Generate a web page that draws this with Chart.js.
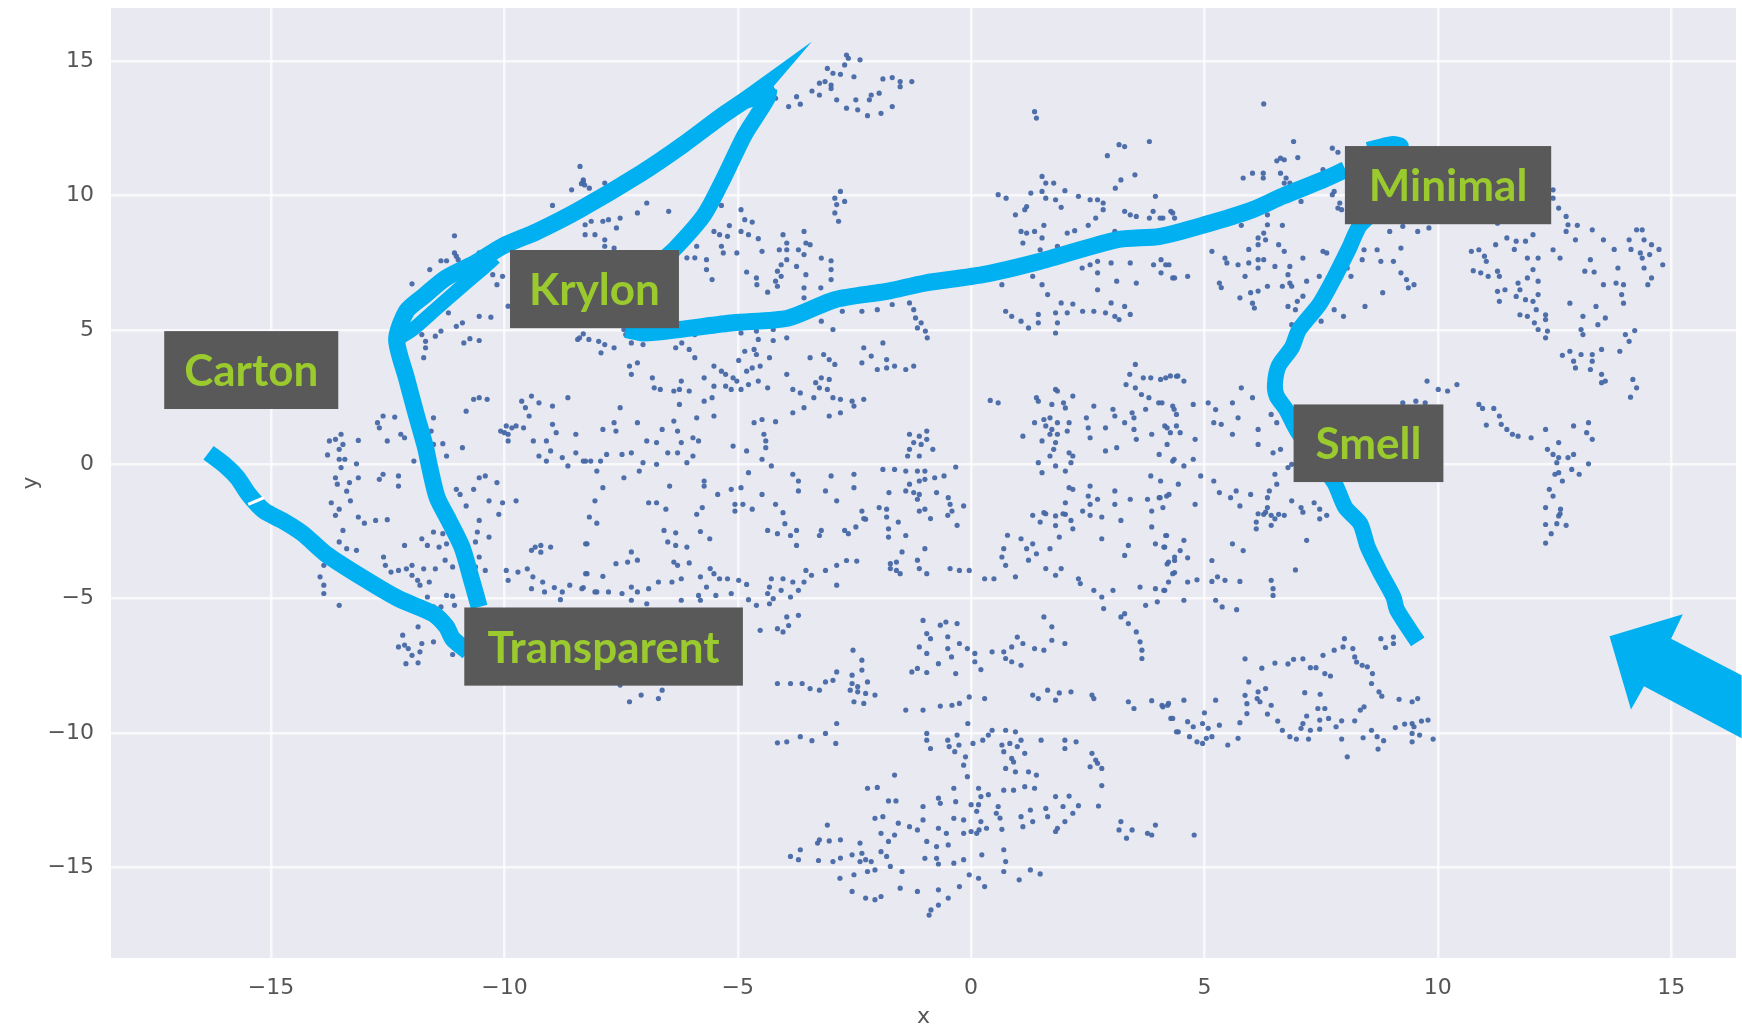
<!DOCTYPE html>
<html>
<head>
<meta charset="utf-8">
<title>t-SNE scatter</title>
<script src="https://cdn.jsdelivr.net/npm/chart.js@4/dist/chart.umd.min.js"></script>
<style>
  html, body { margin: 0; padding: 0; background: #fff; overflow: hidden; }
  canvas { display: block; filter: blur(0.7px); }
</style>
</head>
<body>
<canvas id="chart" width="1742" height="1030"></canvas>
<script>
'use strict';

// ── TICKS ────────────────────────────────────────────────────────
var xTicks = [-15, -10, -5, 0, 5, 10, 15];
var yTicks = [-15, -10, -5, 0, 5, 10, 15];

// ── POINTS (by region) ───────────────────────────────────────────
var pointsNorthWest = [
  [-8.38,11.09],[-8.31,10.53],[-8.28,10.4],[-8.35,10.45],[-8.56,10.22],[-8.97,9.64],[-11.07,8.51],[-11.07,7.87],[-10.99,7.62],[-11.03,7.75],
  [-11.36,7.58],[-11.24,7.58],[-11.6,7.25],[-11.98,6.72],[-10.54,7.87],[-10.25,7.06],[-10.16,6.69],[-10.04,7],[-11.2,5.64],[-10.54,5.51],
  [-10.29,5.48],[-9.92,5.89],[-11.03,5.14],[-10.9,5.27],[-11.36,4.96],[-11.48,4.77],[-11.77,4.83],[-11.69,4.58],[-11.94,5.08],[-11.69,4.34],
  [-11.73,3.97],[-10.87,4.52],[-10.74,4.68],[-10.54,4.61],[-8.31,4.86],[-8.43,4.65],[-8.19,4.65],
  [-8.31,10.59],[-8.18,10.28],[-7.85,10.47],[-8.14,9.05],[-7.89,9.05],[-7.77,9.11],[-7.52,9.17],[-7.6,8.8],[-8.27,8.92],[-8.27,8.55],
  [-8.06,8.55],[-7.85,8.36],[-7.85,8.12],[-7.65,8.05],[-6.95,9.73],[-7.15,9.36],[-6.48,9.42]
];
var pointsWest = [
  [-10.54,2.48],[-10.37,2.42],[-10.66,2.42],[-10.82,1.98],[-12.6,1.8],[-12.72,1.55],[-12.35,1.76],[-12.68,1.36],[-11.52,1.73],[-11.57,1.24],
  [-13.5,1.12],[-13.75,0.87],[-13.62,0.93],[-13.46,0.74],[-13.54,0.56],[-13.79,0.35],[-13.54,0.19],[-13.42,0.19],[-13.5,-0.12],[-13.17,0.02],
  [-13.13,0.89],[-13.62,-0.5],[-13.58,-0.74],[-13.32,-0.68],[-13.13,-0.5],[-13.38,-1],[-13.71,-1.43],[-13.54,-1.67],[-13.3,-1.36],[-12.51,0.87],
  [-12.22,1.12],[-12.14,0.99],[-12.6,-0.37],[-12.68,-0.56],[-12.27,-0.43],[-12.27,-0.81],[-11.94,0.12],[-11.32,0.77],[-10.9,0.62],[-11.24,0.31],
  [-11.52,0.74],[-9.96,1.43],[-10.08,1.24],[-9.92,1.12],[-9.84,1.36],[-9.75,1.43],[-9.59,1.36],[-9.92,0.87],[-10,1.18],[-9.63,2.35],
  [-9.42,2.54],[-9.55,2.11],[-9.47,1.8],[-9.26,2.29],[-8.97,2.17],[-8.64,2.48],[-8.97,1.49],[-8.89,1.18],[-9.1,0.87],[-9.01,0.5],
  [-9.26,0.31],[-8.47,1.12],[-9.38,0.87],[-8.47,0.43],[-8.31,0.12],[-8.76,0.25],[-8.64,-0.06],[-9.1,0.12],[-8.15,0.12],[-11.03,-0.93],
  [-10.95,-1.12],[-10.66,-0.93],[-10.54,-0.5],[-10.41,-0.43],[-10.16,-0.68],[-10.33,-1.36],[-10.04,-1.43],[-9.75,-1.36],[-10.12,-1.86],[-10.82,-1.55]
];
var pointsSouthWest = [
  [-13.62,-1.9],[-13.13,-1.96],[-13,-2.19],[-12.76,-2.09],[-12.51,-2.06],[-13.46,-2.46],[-13.54,-2.89],[-13.38,-3.14],[-13.17,-3.2],[-12.14,-3.02],
  [-11.77,-2.77],[-11.52,-2.52],[-11.32,-2.58],[-11.65,-3.02],[-11.4,-3.08],[-11.24,-2.96],[-10.54,-2.09],[-10.58,-2.52],[-10.33,-2.71],[-10.62,-2.89],
  [-9.34,-3.08],[-9.22,-3.02],[-9.01,-3.08],[-9.42,-3.2],[-9.22,-3.27],[-8.23,-2.96],[-8.23,-4.07],[-12.59,-3.45],[-12.55,-3.76],[-12.43,-4.01],
  [-12.27,-3.95],[-12.1,-3.89],[-11.98,-3.76],[-11.98,-4.13],[-11.86,-4.32],[-11.61,-4.38],[-11.73,-3.89],[-11.48,-3.89],[-11.27,-3.57],[-11.11,-3.82],
  [-11.81,-4.5],[-10.54,-3.45],[-10.62,-3.82],[-10.41,-3.95],[-13.87,-3.76],[-13.95,-4.19],[-13.87,-4.5],[-13.87,-4.81],[-13.54,-5.25],[-9.96,-3.95],
  [-9.71,-4.01],[-9.92,-4.32],[-9.51,-3.89],[-9.39,-4.19],[-9.18,-4.38],[-9.42,-4.63],[-9.14,-4.75],[-8.93,-4.59],[-8.76,-4.75],[-8.6,-4.5],
  [-8.31,-4.59],[-8.02,-4.75],[-8.8,-5.04],[-11.65,-4.94],[-11.24,-4.88],[-11.11,-4.91],[-11.36,-5.31],[-11.07,-5.25],[-11.52,-5.31],[-11.85,-6.05],
  [-12.18,-6.36],[-12.14,-6.73],[-11.77,-6.67],[-11.52,-6.61],[-11.98,-7.11],[-11.81,-6.98],[-12.11,-7.42],[-11.85,-7.39],[-11.11,-7.08],[-12.27,-6.8],[-12.06,-6.86]
];
var pointsNorthCentre = [
  [-4.93,9.48],[-4.85,9.11],[-4.69,9.02],[-4.93,8.67],[-4.77,8.55],[-4.56,8.4],[-4.48,7.93],[-5.51,8.67],[-5.39,8.55],[-5.22,8.49],
  [-5.35,8.12],[-5.31,7.87],[-5.02,7.87],[-5.88,8.12],[-6.09,7.69],[-5.92,7.69],[-5.67,7.62],[-5.67,7.25],[-5.55,6.88],[-5.18,8.89],
  [-5.35,9.64],[-4.81,7.16],[-4.6,6.94],[-4.59,6.69],[-4.36,6.41],[-4.03,8.55],[-3.95,8.24],[-4.11,7.99],[-3.95,7.99],[-3.58,8.67],
  [-3.54,8.24],[-3.45,8.18],[-3.7,7.99],[-3.58,7.81],[-3.21,7.68],[-3,7.58],[-3,7.25],[-3,6.88],[-3.22,6.57],[-3.54,7.06],
  [-3.74,7.37],[-3.58,6.57],[-3.58,6.2],[-3.95,7.62],[-4.07,7.43],[-4.15,7.19],[-4.07,7],[-4.19,6.82],[-4.15,6.63],[-2.8,10.16],
  [-2.92,9.91],[-2.71,9.79],[-2.88,9.67],[-2.92,9.36],[-2.84,9.05],[-2.67,15.24],[-2.63,15.12],[-2.38,15.06],[-2.71,14.87],[-3.08,14.74],
  [-2.96,14.56],[-3.13,14.25],[-3.25,14.19],[-3,14.12],[-2.8,14.52],[-2.51,14.43],[-1.89,14.35],[-1.69,14.4],[-1.52,14.25],[-1.27,14.25],
  [-1.52,14.06],[-3.41,13.9],[-3.25,13.75],[-3,13.99],[-2.88,13.57],[-2.67,13.26],[-2.47,13.57],[-2.43,13.2],[-2.22,12.98],[-1.93,13.07],
  [-1.69,13.32],[-2.14,13.75],[-1.97,13.82],[-2.18,13.57],[-3.74,13.69],[-3.91,13.32],[-3.66,13.41],[-4.19,13.63],
  [-2.76,5.7],[-2.34,5.7],[-2.01,5.76],[-1.69,5.95],[-1.32,6.01],[-1.23,5.76],[-1.19,5.45],[-1.07,5.27],[-1.15,5.08],[-0.98,4.96],
  [-0.94,4.71],[-3.21,5.33],[-2.96,5.02]
];
var pointsCentre = [
  [-8.39,4.71],[-7.98,4.58],[-7.85,4.46],[-7.93,4.15],[-7.65,4.34],[-7.4,4.83],[-7.28,4.52],[-7.03,4.46],[-7.44,5.02],[-4.93,4.89],
  [-4.6,4.96],[-4.56,4.65],[-4.24,5.02],[-4.24,4.61],[-3.95,4.71],[-5.92,4.83],[-6.2,4.52],[-6.33,4.34],[-6.04,4.28],[-5.92,3.97],
  [-4.65,4.28],[-4.85,4.21],[-4.6,4.09],[-4.32,3.97],[-4.98,3.87],[-4.69,3.59],[-4.52,3.66],[-4.81,3.47],[-5.02,3.1],[-4.56,3.1],
  [-4.77,2.97],[-4.36,2.85],[-4.93,2.79],[-5.14,2.79],[-5.26,2.91],[-5.51,3.66],[-5.35,3.47],[-5.26,3.35],[-5.72,3.22],[-5.51,2.91],
  [-5.55,2.48],[-5.72,2.35],[-5.1,3.22],[-7.32,3.66],[-7.15,3.78],[-7.28,3.35],[-6.83,3.22],[-6.79,2.85],[-6.66,2.79],[-6.21,3.1],
  [-6.25,2.79],[-6.37,2.73],[-6.04,2.73],[-6.25,2.23],[-5.88,1.73],[-5.51,1.8],[-7.52,2.11],[-2.3,4.34],[-2.14,4.03],[-2.34,3.78],
  [-2.01,3.53],[-1.81,3.9],[-1.89,4.52],[-1.64,3.66],[-1.4,3.53],[-1.23,3.66],[-1.81,3.59],[-3.16,4.09],[-3.04,3.9],[-2.92,3.72],
  [-3.45,3.97],[-3.95,3.35],[-3.21,3.22],[-3.04,3.16],[-3.33,3.04],[-3.25,2.85],[-3.08,2.79],[-2.96,2.48],[-2.8,2.42],[-2.55,2.35],
  [-2.3,2.42],[-2.51,2.17],[-2.8,1.92],[-3.04,1.8],[-3.37,2.48],[-3.58,2.11],[-3.82,1.92],[-3.66,2.66],[-3.82,2.79],
  [-7.89,1.3],[-7.65,1.55],[-7.61,1.24],[-7.15,1.55],[-6.62,1.3],[-6.37,1.61],[-6.29,1.24],[-6.21,0.81],[-6.95,0.87],[-6.74,0.81],
  [-5.96,0.99],[-5.84,0.87],[-6.5,0.43],[-6.29,0.43],[-5.96,0.31],[-6.09,0.06],[-6.74,0],[-7.03,0.06],[-7.11,-0.25],[-7.28,0.43],
  [-7.48,0.37],[-7.81,0.37],[-7.94,0.12],[-8.26,0.12],[-8.02,-0.25],[-7.44,-0.5],[-7.89,-0.87],[-6.46,-0.81],[-8.06,-1.36],[-5.72,-0.62],
  [-5.72,-0.81],[-5.43,-1.12],[-5.14,-0.93],[-4.93,-0.87],[-5.06,-1.49],[-4.89,-1.49],[-4.69,-1.67],[-4.48,-1.12],[-4.19,-1.49],[-4.03,-1.8],
  [-6.91,-1.43],[-6.74,-1.43],[-6.54,-1.67],[-5.76,-1.61],[-5.88,-1.86],[-5.06,-1.74],[-4.65,1.55],[-4.48,1.67],[-4.19,1.59],[-4.44,1.12],
  [-4.4,0.87],[-4.4,0.62],[-5.1,0.68],[-4.81,0.5],[-4.48,0.19],[-4.28,-0.06],[-4.77,-0.31],[-3.82,-0.37],[-3.7,-0.62],[-3.7,-0.99],
  [-3.12,-0.99],[-3,-0.43],[-2.88,-1.36],[-2.51,-0.37],[-2.51,-0.87],[-1.89,-0.19],[-1.64,-0.19],[-1.76,-1.05],[-1.97,-1.61],[-1.81,-1.67],
  [-2.34,-1.74],[-2.26,-2.04],[-1.32,1.12],[-1.11,1.05],[-0.95,1.24],[-1.23,0.81],[-1.07,0.74],[-1.32,0.56],[-1.11,0.31],[-0.82,0.56],
  [-0.95,0.93],[-1.36,0.31],[-0.33,-0.1],[-1.4,-0.25],[-1.15,-0.25],[-0.99,-0.25],[-1.11,-0.62],[-0.99,-0.56],[-0.78,-0.5],[-0.58,-0.43],
  [-1.32,-0.74],[-1.23,-1.05],[-1.11,-1.12],[-1.4,-0.99],[-0.74,-1.05],[-0.49,-1.24],[-0.45,-1.49],[-0.16,-1.55],[-0.41,-1.74],[-0.99,-1.67],
  [-1.11,-1.74],[-1.15,-1.3]
];
var pointsNorthEast = [
  [1.36,13.13],[1.4,12.89],[3.17,11.9],[3.29,11.83],[3.82,12.02],[2.92,11.49],[3.51,10.78],[3.21,10.59],[3.09,10.28],[0.58,10.04],
  [0.75,9.91],[1.52,10.72],[1.6,10.47],[1.77,10.47],[1.52,10.16],[1.6,9.91],[1.28,10.1],[1.81,9.85],[2.01,10.19],[1.93,9.57],
  [2.3,9.98],[2.55,9.85],[2.71,9.85],[2.83,9.73],[2.83,9.48],[0.95,9.29],[1.19,9.6],[1.15,9.48],[3.29,9.42],[3.41,9.29],
  [3.54,9.23],[3.82,9.17],[3.9,9.42],[4.11,9.17],[4.32,9.36],[3.95,9.98],[1.56,8.9],[1.36,8.67],[1.07,8.67],[1.19,8.61],
  [1.11,8.24],[1.52,8.43],[2.06,8.61],[2.22,8.7],[2.51,8.9],[2.67,9.17],[3.08,8.67],[1.48,7.99],[1.85,8.12],[2.38,7.31],
  [2.55,7.43],[2.71,7.56],[3,7.5],[3.41,7.5],[3.91,7.43],[4.07,7.62],[4.24,7.43],[4.07,7.13],[4.36,6.94],[2.71,7.13],
  [3.12,6.82],[3.54,6.75],[2.71,6.5],[1.32,7],[1.52,6.69],[1.64,6.32],[0.66,6.69],[0.74,5.7],[0.87,5.51],[1.07,5.33],
  [1.23,5.08],[1.44,5.58],[1.44,5.27],[1.81,5.64],[1.85,5.27],[1.81,4.89],[1.93,6.01],[2.18,5.97],[2.06,5.64],[2.39,5.7],
  [2.63,5.7],[3,6.01],[2.88,5.64],[3.08,5.51],[3.29,5.88],[3.41,5.58],[3.17,5.39],
  [6.27,13.42],[6.91,12.02],[6.63,11.4],[6.55,11.3],[6.71,11.34],[7,11.42],[7.74,11.77],[7.86,11.62],[5.83,10.66],[6.03,10.84],
  [6.26,10.84],[6.26,10.66],[6.63,10.84],[6.75,10.66],[6.71,10.47],[6.83,10.47],[7.07,9.79],[7.54,10.97],[7.78,10.16],[7.74,10.04],
  [7.9,9.73],[7.86,9.54],[7.94,9.48],[4.28,9.42],[4.36,9.17],[4.05,9.17],[6.35,8.92],[5.79,8.9],[6.67,8.9],[6.35,9.29],
  [8.97,8.67],[9.25,8.86],[9.57,8.67],[9.81,8.8],[11.28,8.98],[6.27,8.61],[6.15,8.43],[6.31,8.36],[6.15,8.18],[5.95,8],
  [6.59,8.18],[6.71,7.93],[5.16,7.93],[5.44,7.68],[5.48,7.5],[5.72,7.43],[5.95,7.5],[6.15,7.62],[6.27,7.62],[6.15,7.31],
  [6.51,7.37],[6.83,7.37],[6.79,7.06],[6.83,6.75],[7.11,7.68],[7.19,6.82],[6.67,6.63],[6.87,6.63],[6.35,6.63],[6.15,6.45],
  [5.99,6.39],[5.76,6.2],[6.03,6],[6.07,5.82],[5.32,6.75],[5.36,6.58],[5.87,7],[4.64,7],[4.32,6.94],[4.17,7.43],
  [7.54,7.93],[7.62,7.87],[7.46,7],[8.06,7.31],[8.14,7],[8.38,7.62],[8.42,7.99],[8.7,7.99],[9.21,8.05],[8.78,7.56],
  [9.05,7.56],[9.21,7.13],[9.33,6.88],[9.49,6.69],[9.37,6.57],[8.82,6.39],[8.44,5.88],[7.78,5.76],[7.98,5.51],[6.79,5.88],
  [6.95,5.76],[6.99,6.07],[7.11,6.26],[7.5,5.33],[6.87,5.2]
];
var pointsFarEast = [
  [12.47,10.22],[12.47,9.91],[12.59,9.54],[12.75,9.23],[12.79,8.92],[12.99,8.9],[12.75,8.67],[12.95,8.36],[13.31,8.73],[13.55,8.36],
  [13.78,8],[14.26,8.73],[14.38,8.73],[14.1,8.36],[14.42,8.36],[14.58,8.18],[14.74,8],[14.14,8],[14.34,7.87],[14.54,7.81],
  [14.38,7.68],[14.82,7.43],[14.42,7.31],[14.58,6.94],[14.5,6.69],[13.86,7.31],[13.55,6.69],[13.82,6.75],[13.98,6.69],[13.94,6.32],
  [13.98,6],[13.27,7.62],[13.15,7.19],[13.35,7.16],[12.83,6],[13.39,5.88],[13.11,5.51],[13.59,5.45],[13.43,5.2],[13.07,5.02],
  [13.11,4.83],[14.22,4.98],[14.02,4.83],[14.1,4.58],[13.9,4.21],[13.51,4.28],[13.31,4.09],[13.07,4.09],[12.83,4.21],[12.67,4.06],
  [12.91,3.84],[12.95,3.59],[13.31,3.84],[13.27,3.53],[13.51,3.35],[13.51,3.04],[13.59,3.1],[14.18,3.16],[14.26,2.85],[14.13,2.5],
  [10.72,7.93],[10.88,7.99],[11,7.75],[11.04,7.56],[11.24,8.18],[11.48,8.43],[11.68,8.31],[11.88,8.31],[12.04,8.55],[11.64,8],
  [11.92,7.68],[12.15,7.68],[12.47,7.99],[12.62,7.68],[10.76,7.21],[10.92,7.13],[11.08,7],[11.28,7.19],[11.32,7],[12.04,7.25],
  [11.92,6.94],[12.15,6.82],[11.72,6.75],[11.76,6.5],[11.28,6.44],[11.44,6.5],[11.68,6.25],[11.32,6.07],[11.88,6.13],[12.04,6.07],
  [12.15,6.32],[12.11,5.76],[11.76,5.57],[11.92,5.51],[12.31,5.57],[12.31,5.39],[12.07,5.27],[12.15,5.02],[12.35,4.96],[12.31,4.71],
  [9.77,3.1],[10.01,2.79],[10.21,2.73],[10.41,2.97],[9.25,2.29],[9.53,2.35],[9.73,2.29],[10.88,2.23],[10.96,2.08],[11.2,2.08],
  [11.32,1.8],[11.04,1.46],[11.36,1.49],[11.48,1.3],[11.6,1.12],[11.72,1.05],[12,0.99],[12.31,1.3],[12.91,1.43],[13.23,1.55],
  [13.19,1.18],[13.31,0.93],[12.59,0.81],[12.35,0.56],[12.47,0.37],[12.59,0.25],[12.79,0.25],[12.91,0.37],[13.23,0.02],[12.55,0.06],
  [12.59,-0.31],[12.51,-0.37],[12.87,-0.19],[13.03,-0.37],[12.67,-0.62],[12.39,-0.93],[12.47,-1.18],[12.31,-1.61],[12.63,-1.67],[12.59,-1.92],
  [12.31,-2.24],[12.55,-2.21],[12.75,-2.27],[12.43,-2.58],[12.31,-2.93],[12.62,-1.84]
];
var pointsEastCentre = [
  [3.52,3.72],[3.4,3.35],[3.32,2.97],[3.69,3.22],[3.85,3.22],[4.06,3.16],[4.27,3.29],[4.43,3.29],[3.52,2.85],[3.65,2.6],
  [3.81,2.48],[4.02,2.29],[4.35,2.05],[3.74,2.05],[3.45,1.92],[3.04,2.05],[3.08,1.8],[2.63,2.17],[2.47,1.73],[2.51,1.36],
  [2.55,0.99],[2.88,1.36],[3.29,1.55],[3.49,1.3],[3.54,0.93],[3.87,1.12],[4.15,1.43],[4.27,1.18],[3.49,1.73],[3.12,0.62],
  [2.88,0.5],[4.03,0.37],[4.35,0.19],[3.85,-0.43],[4.06,-0.62],[0.41,2.38],[0.58,2.29],[1.81,2.79],[1.85,2.73],[1.4,2.48],
  [1.44,2.35],[1.73,2.23],[1.98,2.29],[2.02,2.1],[2.18,2.54],[1.36,1.55],[1.56,1.67],[1.69,1.73],[1.6,1.43],[1.73,1.3],
  [1.85,1.55],[2.1,1.55],[2.06,1.24],[1.85,1.12],[1.69,1.12],[1.11,1.05],[1.52,0.87],[1.81,0.81],[1.77,0.56],[1.69,0.31],
  [2.1,0.43],[2.18,0.31],[2.14,0.06],[1.44,0.06],[1.81,-0.06],[1.52,-0.31],[2.02,-0.25],[2.1,-0.87],[2.18,-0.93],[2.55,-0.81],
  [2.51,-1.18],[2.71,-1.3],[3.08,-0.99],[3.41,-1.3],[3.78,-1.3],[4.03,-1.24],[4.19,-1.18],[3.87,-1.74],[4.11,-1.61],[2.02,-1.43],
  [1.56,-1.8],[1.81,-1.92],[2.02,-1.86],[2.55,-1.49],[2.39,-1.74],[3.08,-1.49],
  [4.17,3.22],[4.4,3.28],[4.56,3.1],[5.79,2.85],[6.03,2.48],[5.6,2.29],[5.08,2.29],[5.24,2.04],[4.76,2.23],[4.32,2.17],
  [4.4,1.86],[4.09,2.29],[6.43,1.86],[6.55,1.55],[5.72,1.73],[5.2,1.55],[5.36,1.49],[6.15,1.3],[5.6,1.12],[6.15,0.74],
  [6.47,0.43],[6.63,0.56],[4.8,0.93],[4.2,0.74],[4.4,1.43],[4.2,1.36],[4.48,1.18],[4.32,0.12],[4.56,-0.06],[4.76,0.19],
  [4.92,-0.43],[5.2,-0.62],[5.32,-1.05],[4.44,-0.74],[4.24,-1.12],[4.05,-1.24],[4.8,-1.49],[5.68,-0.99],[5.99,-1.12],[5.56,-1.24],
  [5.76,-1.55],[6.39,-0.99],[6.35,-1.24],[6.35,-1.61],[6.51,-0.37],[6.55,-0.74],[6.79,-0.12],[6.87,0],[6.87,-1.36],[7.07,-1.61],
  [7.35,-1.43],[7.47,-1.67],[6.59,-1.86],[6.27,-1.86],[6.15,-1.84],[6.31,-1.78],[6.43,-1.9],[6.71,-1.9],[6.11,-2.15],[6.11,-2.4],
  [6.43,-2.27],[6.51,-2.03],[7.11,-1.78],[7.47,-2.03],[7.62,-1.9],[7.19,-2.83],[5.6,-2.96],[5.83,-3.21],[6.95,-3.93],[5.16,-3.58],
  [5.28,-4.19],[5.44,-4.32],[5.16,-4.36],[5.76,-4.36],[6.43,-4.32],[6.47,-4.63],[6.47,-4.88],[5.24,-5.06],[5.38,-5.31],[5.69,-5.41],
  [4.56,-5.06],[4.56,-2.83],[4.48,-3.21],[4.36,-3.58],[4.17,-2.65],[4.13,-3.08],[4.2,-3.71],[4.36,-4.03],[4.64,-3.48],[4.64,-4.38],
  [4.84,-4.3],[4.13,-4.69]
];
var pointsSouthEast = [
  [8,-6.49],[7.97,-6.8],[7.78,-6.92],[7.54,-7.11],[8.18,-6.86],[8.22,-7.17],[8.26,-7.36],[8.38,-7.48],[8.49,-7.54],[8.6,-7.79],
  [8.58,-8.16],[8.74,-8.47],[8.8,-8.63],[9.17,-8.75],[9.45,-8.84],[9.57,-8.72],[8.78,-6.49],[8.88,-6.82],[9.05,-6.43],[9.05,-6.67],
  [5.87,-7.24],[6.23,-7.59],[6.51,-7.4],[6.79,-7.43],[6.91,-7.26],[7.11,-7.24],[7.27,-7.57],[7.39,-7.57],[7.58,-7.79],[7.7,-7.88],
  [5.95,-8.1],[6.15,-8.47],[6.31,-8.35],[5.87,-8.6],[6.13,-8.72],[5.91,-8.91],[6.19,-8.84],[6.43,-8.97],[5.91,-9.28],[6.35,-9.3],
  [6.57,-9.56],[5.76,-9.62],[6.67,-9.9],[7.15,-8.5],[7.48,-8.56],[7.43,-9.09],[7.58,-9.09],[8.42,-9.03],[8.34,-9.15],[7.19,-9.37],
  [7.11,-9.65],[7.07,-9.83],[7.27,-9.9],[7.47,-9.52],[7.47,-9.86],[7.66,-9.46],[7.94,-9.55],[7.82,-9.77],[8.22,-9.55],[8.58,-9.9],
  [8.7,-10.14],[8.84,-10.29],[8.4,-10.18],[7.94,-10.23],[7.23,-10.23],[6.83,-10.14],[6.97,-10.23],[8.06,-10.89],[8.72,-10.6],[9.09,-9.8],
  [9.29,-9.67],[9.45,-9.65],[9.65,-9.56],[9.79,-9.52],[9.49,-9.77],[9.45,-10.02],[9.61,-10.08],[9.45,-10.33],[9.9,-10.23],[4.09,-8.97],
  [4.21,-8.97],[4.56,-8.78],[5.24,-8.78],[5,-9.25],[4.28,-9.46],[4.64,-9.58],[4.76,-9.77],[4.96,-9.65],[5.08,-9.83],[5.32,-9.71],
  [4.4,-9.96],[4.68,-10.14],[4.84,-10.33],[4.96,-10.39],[5.04,-10.2],[5.16,-10.14],[5.5,-10.45],[5.72,-10.2],[4.78,-13.8]
];
var pointsSouthCentre = [
  [-3.99,-2.21],[-4.36,-2.46],[-4.15,-2.58],[-3.74,-2.46],[-3.87,-2.65],[-3.21,-2.46],[-3.25,-2.65],[-2.71,-2.46],[-2.63,-2.58],[-2.47,-2.33],
  [-2.3,-2.02],[-3.74,-3.02],[-6.33,-2.55],[-6.58,-2.46],[-6.5,-2.89],[-6.33,-3.02],[-6.09,-3.08],[-5.8,-2.5],[-5.6,-2.77],[-8.26,-2.96],
  [-8.02,-2.19],[-8.18,-1.96],[-7.28,-3.26],[-7.15,-3.57],[-7.36,-3.64],[-7.61,-3.7],[-6.37,-3.64],[-6.29,-3.76],[-6.04,-3.67],[-5.59,-3.88],
  [-5.51,-4.07],[-5.39,-4.26],[-5.22,-4.26],[-4.98,-4.32],[-4.81,-4.47],[-8.26,-4.07],[-7.89,-4.17],[-8.34,-4.63],[-8.06,-4.75],[-7.77,-4.75],
  [-7.48,-4.81],[-7.28,-4.57],[-7.15,-4.75],[-6.91,-4.63],[-6.7,-4.38],[-6.41,-4.38],[-6.21,-4.26],[-5.8,-4.19],[-5.67,-4.57],[-5.47,-4.88],
  [-5.14,-4.81],[-5.84,-4.88],[-6.21,-5.06],[-5.8,-5.06],[-6.95,-5.19],[-7.28,-5.06],[-4.77,-5.04],[-4.6,-5.25],[-4.28,-4.26],[-4.32,-4.57],
  [-4.36,-4.81],[-4.24,-5],[-4.32,-5.19],[-4.03,-4.26],[-3.82,-4.38],[-3.7,-4.69],[-3.87,-4.94],[-4.07,-4.69],[-3.54,-3.95],[-3.42,-4.13],
  [-3.58,-4.38],[-3.12,-3.95],[-2.88,-3.76],[-2.67,-3.58],[-2.45,-3.6],[-2.88,-4.5],[-3.95,-5.68],[-3.7,-5.62],[-4.15,-6.12],[-4.03,-6.24],
  [-3.91,-6],[-4.52,-6.18],[-7.52,-8.22],[-7.32,-8.84],[-7.07,-8.59],[-6.7,-8.72],[-6.62,-8.41],[-4.15,-8.16],[-3.87,-8.16],[-3.62,-8.16],
  [-3.45,-8.35],[-3.25,-8.41],[-3.12,-8.1],[-2.96,-8.04],[-2.88,-7.73],[-2.53,-6.92],[-2.34,-7.29],[-2.55,-7.85],[-2.34,-7.66],[-2.55,-8.16],
  [-2.22,-8.1],[-2.59,-8.41],[-2.43,-8.47],[-2.26,-8.53],[-2.06,-8.59],[-2.51,-8.84],[-2.3,-8.9],[-2.43,-8.28],[-4.15,-10.37],[-3.95,-10.33],
  [-3.66,-10.14],[-3.41,-10.29],[-3.12,-10.02],[-2.88,-9.65],[-2.9,-10.39],[-1.4,-9.15],[-1.03,-9.15],[-0.66,-9],[-0.41,-8.97],[-0.25,-8.9],
  [-0.04,-8.66],[0.29,-8.72],[-1.03,-5.81],[-0.66,-5.99],[-0.54,-5.87],[-0.3,-5.93],[-0.95,-6.3],[-0.87,-6.49],[-0.5,-6.42],[-0.25,-6.67],
  [-1.11,-6.8],[-0.95,-7.04],[-0.5,-6.86],[-0.42,-7.17],[-0.7,-7.42],[-0.95,-7.75],[-1.15,-7.6],[-1.27,-7.73],[-0.33,-7.79],[-0.08,-6.86],
  [0.08,-7.04],[0.08,-7.35],[0.21,-7.64],[0.45,-6.98],[0.7,-6.98],[0.87,-6.8],[0.74,-7.23],[0.87,-7.35],[1.07,-7.48],[0.99,-6.43],
  [1.11,-6.67],[1.36,-6.86],[1.56,-6.92],[1.73,-6.55],[2.01,-6.67],[1.56,-5.68],[1.73,-6.05],[1.32,-8.59],[1.44,-8.72],[1.64,-8.41],
  [1.81,-8.78],[1.89,-8.51],[2.14,-8.47],[2.59,-8.59],[2.63,-8.72],[3.37,-8.84],[3.49,-9.09],[3.87,-8.8],[4.11,-9.03],[4.23,-8.9],
  [4.32,-9.46],[4.44,-9.96],[3.21,-5.68],[3.37,-5.93],[3.29,-5.56],[3.54,-6.24],[3.62,-6.61],[3.66,-6.92],[3.66,-7.23],
  [0.78,-2.64],[0.7,-3.14],[0.66,-3.45],[0.74,-3.76],[1.19,-3.14],[1.32,-2.96],[1.4,-3.33],[1.23,-3.57],[1.69,-3.14],[1.07,-2.77],
  [1.6,-3.88],[1.81,-4.13],[1.93,-3.88],[2.3,-4.26],[2.34,-4.44],[0.29,-4.26],[0.49,-4.26],[0.95,-4.19],[-0.45,-3.88],[-0.25,-3.95],
  [-0.04,-3.95],[-0.99,-3.14],[-1.15,-3.57],[-1.11,-3.88],[-0.95,-4.07],[-1.48,-3.26],[-1.73,-3.7],[-1.6,-3.95],[-1.52,-4.07],[-1.73,-3.88],
  [-1.6,-3.64],[2.63,-4.69],[2.8,-4.94],[3.04,-4.69],[2.84,-5.37],[3.62,-4.57],[3.95,-4.63],[4.15,-4.69],[3.99,-5.12],[3.74,-5.25],
  [4.23,-4.38],[1.32,-1.9],[1.48,-2.15],[1.6,-1.84],[1.81,-2.28],[1.97,-1.84],[2.14,-2.09],[2.18,-2.4],[1.89,-2.71],[2.55,-1.9],
  [2.8,-1.96],[2.8,-2.77],[3.21,-2.09],[3.37,-3.02],[3.29,-3.39],[3.87,-2.33],[3.95,-2.96],[4.19,-2.65],[4.15,-3.08],[4.23,-3.64],
  [4.36,-3.45],[4.32,-4.07],[-1.81,-1.96],[-1.77,-2.4],[-1.77,-2.71],[-1.4,-2.65],[-1.56,-2.15],[-0.87,-2.02],[-0.5,-1.9],[-0.3,-2.27]
];
var pointsBottom = [
  [-0.95,-10.02],[-0.95,-10.27],[-0.87,-10.58],[-0.5,-10.27],[-0.3,-10.08],[-0.47,-10.51],[-0.26,-10.45],[-0.35,-10.7],[-0.12,-10.89],[-0.16,-11.2],
  [0.04,-10.39],[0.25,-10.27],[0.45,-9.9],[0.74,-9.9],[0.95,-9.96],[0.37,-10.08],[0.66,-10.45],[0.83,-10.39],[0.99,-10.51],[0.7,-10.7],
  [0.87,-10.95],[1.07,-10.27],[1.15,-10.76],[0.91,-11.08],[0.74,-11.32],[0.95,-11.45],[1.23,-11.45],[1.4,-11.57],[1.5,-10.27],[2.01,-10.27],
  [2.25,-10.33],[2.01,-10.58],[-0.07,-9.65],[2.59,-10.76],[2.67,-11.01],[2.55,-11.26],[2.8,-11.32],[2.71,-11.13],[-1.64,-11.57],[-0.08,-11.63],
  [2.8,-11.96],[2.73,-12.72],[-2.22,-12.06],[-2.01,-12.03],[-1.77,-12.53],[-1.61,-12.53],[-0.37,-12.06],[0.16,-12.06],[0.7,-12.13],[0.91,-12.13],
  [1.15,-12],[1.36,-12.06],[-1.03,-12.74],[-0.7,-12.43],[-0.66,-12.62],[-0.33,-12.56],[0.21,-12.37],[0.37,-12.3],[0,-12.67],[0.16,-12.67],
  [0.12,-12.92],[0.58,-12.74],[0.54,-12.99],[0.62,-13.17],[1.81,-12.37],[2.1,-12.35],[1.97,-12.74],[2.3,-12.71],[2.18,-12.99],[1.6,-12.81],
  [1.64,-13.12],[1.27,-12.87],[1.07,-13.12],[1.32,-13.3],[1.11,-13.49],[2.01,-13.3],[1.85,-13.55],[1.81,-13.67],[0.66,-13.59],[-2.06,-13.18],
  [-1.89,-13.12],[-1.56,-13.36],[-1.32,-13.49],[-1.15,-13.61],[-1.03,-13.24],[-0.37,-13.18],[-0.16,-13.24],[0.21,-13.3],[0.17,-13.61],[0.33,-13.55],
  [-0.7,-13.55],[-0.53,-13.74],[-0.16,-13.74],[0,-13.67],[0.12,-13.74],[-3.08,-13.43],[-3.25,-13.98],[-3.04,-14.02],[-2.8,-13.98],[-3.29,-14.1],
  [-3.66,-14.35],[-3.87,-14.6],[-3.7,-14.72],[-3.27,-14.75],[-2.96,-14.79],[-2.8,-14.66],[-2.38,-14.1],[-2.55,-14.54],[-2.34,-14.48],[-2.26,-14.72],
  [-2.14,-14.79],[-2.38,-14.79],[-1.93,-13.74],[-1.64,-13.8],[-1.77,-14.04],[-1.93,-14.42],[-1.81,-14.6],[-1.73,-14.97],[-1.48,-15.16],[-2.06,-15.1],
  [-2.22,-15.16],[-2.51,-15.28],[-2.81,-15.41],[-2.55,-15.9],[-2.26,-16.15],[-2.06,-16.21],[-1.93,-16.09],[-1.52,-15.78],[-1.15,-15.9],[-0.7,-15.84],
  [-0.95,-14.04],[-0.74,-14.23],[-0.49,-14.17],[-0.99,-14.67],[-0.74,-14.67],[-0.7,-14.88],[-0.37,-14.85],[-0.16,-14.72],[0.23,-14.54],[0.7,-14.35],
  [0.74,-14.79],[0.7,-15.16],[1.27,-15.1],[1.48,-15.25],[1.03,-15.47],[-0.04,-15.28],[0.16,-15.41],[0.29,-15.72],[-0.25,-15.72],[-0.49,-16.15],
  [-0.7,-16.41],[-0.86,-16.59],[-0.9,-16.78],[3.21,-13.3],[3.17,-13.61],[3.45,-13.61],[3.33,-13.92],[3.78,-13.74],[3.95,-13.43],[3.87,-13.8]
];

// ── HAND-DRAWN STROKES ───────────────────────────────────────────
var strokeCarton = [[-16.34,0.43],[-15.97,-0.06],[-15.72,-0.5],[-15.48,-1.12],[-15.15,-1.73],[-14.74,-2.11],[-14.32,-2.58],[-13.83,-3.33],[-13,-4.26],[-12.27,-5],[-11.53,-5.56],[-11.24,-6.05],[-11.11,-6.49],[-10.78,-6.98]];
var strokeNick = [[-15.49,-1.49],[-15.15,-1.24]];
var strokeLoop = [[-10.54,-5.31],[-10.7,-4.32],[-10.91,-3.08],[-11.19,-2.09],[-11.44,-1.24],[-11.6,-0.12],[-11.69,0.62],[-11.89,1.86],[-12.1,3.22],[-12.31,4.65],[-12.1,5.7],[-11.73,6.26],[-11.25,6.94],[-10.62,7.5],[-10.04,8.12],[-9.3,8.67],[-8.39,9.48],[-7.07,10.84],[-6.17,11.9],[-5.26,13.07],[-4.28,14.19]];
var strokeLoopInner = [[-12.31,4.65],[-11.98,5],[-11.52,5.7],[-10.95,6.57],[-10.49,7.25],[-10.2,7.7]];
var strokeKrylonUp = [[-6.7,7.5],[-6.37,7.99],[-5.72,9.29],[-5.3,10.66],[-4.85,12.27],[-4.36,13.63],[-4.32,14]];
var strokeMinimal = [[-7.4,5.02],[-6.99,4.89],[-6.25,5.02],[-5.1,5.27],[-3.91,5.45],[-2.92,6.13],[-1.81,6.44],[-0.99,6.75],[0.25,7.06],[1.48,7.56],[3.13,8.36],[4.05,8.49],[5,8.92],[6.03,9.48],[6.67,9.98],[7.54,10.59],[8.02,10.97]];
var strokeSmell = [[8.5,11.7],[9.01,11.92],[9.21,11.83],[9,10],[8.34,8.92],[8.1,8.05],[7.78,6.94],[7.46,5.95],[7.03,5.02],[6.87,4.34],[6.59,3.66],[6.51,2.97],[6.55,2.54],[6.75,2.04],[6.99,1.24],[7.78,-0.68],[8.02,-1.61],[8.34,-2.21],[8.5,-3.08],[8.78,-4.07],[9.05,-4.94],[9.13,-5.43],[9.57,-6.61]];

// ── FILLED SHAPES ────────────────────────────────────────────────
var shapeTip = [[-5.14,13.57],[-3.41,15.74],[-4.24,14.06],[-4.28,13.51],[-4.77,13.26]];
var shapeArrow = [[13.68,-6.4],[15.25,-5.58],[15,-6.49],[16.51,-7.85],[16.51,-10.2],[14.42,-8.26],[14.14,-9.13]];

// ── LABEL BOXES: text, x from, x to, y top, y bottom ─────────────
var labelTexts = ['Carton', 'Krylon', 'Minimal', 'Smell', 'Transparent'];
var labelLeft = [-17.29, -9.88, 8.01, 6.91, -10.86];
var labelRight = [-13.56, -6.26, 12.43, 10.12, -4.89];
var labelTop = [4.96, 7.98, 11.85, 2.23, -5.33];
var labelBottom = [2.06, 5.07, 8.94, -0.66, -8.24];

// ── COLOURS ──────────────────────────────────────────────────────
var BLUE = '#00B0F0';
var DOT = 'rgba(70,104,165,0.95)';
var TICK = '#555555';

function toXY(list) {
  return list.map(function (p) { return { x: p[0], y: p[1] }; });
}

function stroke(list, width, color, order) {
  return {
    data: toXY(list),
    showLine: true,
    pointRadius: 0,
    borderColor: color || BLUE,
    borderWidth: width,
    borderCapStyle: 'butt',
    borderJoinStyle: 'round',
    tension: 0.25,
    order: order === undefined ? 1 : order
  };
}

var plotBackground = {
  id: 'plotBackground',
  beforeDraw: function (chart) {
    var a = chart.chartArea, ctx = chart.ctx;
    ctx.save();
    ctx.fillStyle = '#E9E9F1';
    ctx.fillRect(a.left, a.top, a.right - a.left, a.bottom - a.top);
    ctx.restore();
  }
};

// shapes and label boxes sit on top of everything, the arrow runs past the plot edge
var overlays = {
  id: 'overlays',
  afterDatasetsDraw: function (chart) {
    var ctx = chart.ctx, sx = chart.scales.x, sy = chart.scales.y;

    ctx.save();
    ctx.fillStyle = BLUE;
    [shapeTip, shapeArrow].forEach(function (shape) {
      ctx.beginPath();
      shape.forEach(function (p, i) {
        var px = sx.getPixelForValue(p[0]), py = sy.getPixelForValue(p[1]);
        if (i === 0) ctx.moveTo(px, py); else ctx.lineTo(px, py);
      });
      ctx.closePath();
      ctx.fill();
    });

    ctx.font = '700 44px Lato, sans-serif';
    ctx.textAlign = 'center';
    ctx.textBaseline = 'middle';
    labelTexts.forEach(function (text, i) {
      var l = sx.getPixelForValue(labelLeft[i]), r = sx.getPixelForValue(labelRight[i]);
      var t = sy.getPixelForValue(labelTop[i]), b = sy.getPixelForValue(labelBottom[i]);
      ctx.fillStyle = '#595959';
      ctx.fillRect(l, t, r - l, b - t);
      ctx.fillStyle = '#9ACA2E';
      ctx.fillText(text, (l + r) / 2, (t + b) / 2 + 2);
    });
    ctx.restore();
  }
};

function axis(min, max, ticks, title, titlePad, fit) {
  return {
    type: 'linear',
    min: min,
    max: max,
    afterBuildTicks: function (scale) {
      scale.ticks = ticks.map(function (v) { return { value: v }; });
    },
    afterFit: fit,
    border: { display: false },
    grid: { color: 'rgba(255,255,255,0.7)', lineWidth: 2.5, drawTicks: false },
    ticks: {
      color: TICK,
      padding: 17,
      maxRotation: 0,
      font: { family: 'DejaVu Sans', size: 22 },
      callback: function (v) { return String(v).replace('-', '\u2212'); }
    },
    title: {
      display: true,
      text: title,
      color: TICK,
      padding: { top: titlePad, bottom: 0 },
      font: { family: 'DejaVu Sans', size: 22 }
    }
  };
}

new Chart(document.getElementById('chart'), {
  type: 'scatter',
  data: {
    datasets: [
      {
        data: toXY([].concat(pointsNorthWest, pointsWest, pointsSouthWest, pointsNorthCentre, pointsCentre,
          pointsNorthEast, pointsFarEast, pointsEastCentre, pointsSouthEast, pointsSouthCentre, pointsBottom)),
        backgroundColor: DOT,
        borderWidth: 0,
        pointRadius: 2.6,
        order: 2
      },
      stroke(strokeCarton, 17),
      stroke(strokeLoop, 17),
      stroke(strokeLoopInner, 14),
      stroke(strokeKrylonUp, 16),
      stroke(strokeMinimal, 17),
      stroke(strokeSmell, 16),
      stroke(strokeNick, 3, '#ffffff', 0)
    ]
  },
  plugins: [plotBackground, overlays],
  options: {
    responsive: false,
    animation: false,
    layout: { padding: { top: 8, right: 6, left: 0, bottom: 0 } },
    plugins: { legend: { display: false }, tooltip: { enabled: false } },
    scales: {
      x: axis(-18.43, 16.39, xTicks, 'x', 0, function (s) { s.height = 72; s.paddingLeft = 0; s.paddingRight = 0; }),
      y: axis(-18.38, 16.99, yTicks, 'y', 18, function (s) { s.width = 111; s.paddingTop = 0; s.paddingBottom = 0; })
    }
  }
});
</script>
</body>
</html>
